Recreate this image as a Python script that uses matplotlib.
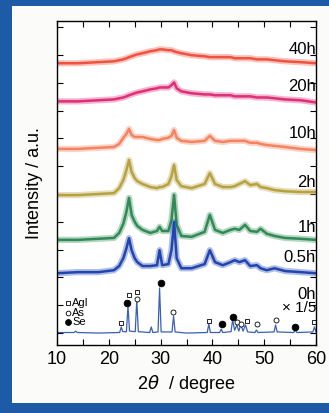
import matplotlib.pyplot as plt
from matplotlib.patches import Rectangle

plt.rcParams['font.family'] = ['Liberation Sans', 'DejaVu Sans']

# common 2theta grid for the milled samples (degree)
tt = [10, 14, 18, 21, 22, 22.8, 23.4, 23.9, 24.4, 25.0, 25.5, 26.5, 28, 29.3, 29.8,
      30.3, 31.5, 32.1, 32.6, 33.1, 34, 36, 38.5, 39.5, 40.5, 42, 43.5, 44.3, 45.2,
      46.3, 47.3, 48.6, 49.3, 50.5, 52, 54, 57, 60]

i_40h = [0.00, 0.00, 0.04, 0.07, 0.11, 0.14, 0.18, 0.22, 0.25, 0.29, 0.32, 0.36, 0.43,
         0.47, 0.50, 0.50, 0.47, 0.47, 0.43, 0.40, 0.36, 0.29, 0.25, 0.22, 0.22, 0.22,
         0.22, 0.18, 0.18, 0.18, 0.18, 0.14, 0.14, 0.14, 0.11, 0.07, 0.04, 0.00]
i_20h = [0.00, 0.00, 0.04, 0.07, 0.11, 0.14, 0.18, 0.22, 0.25, 0.29, 0.32, 0.36, 0.43,
         0.47, 0.50, 0.50, 0.50, 0.58, 0.68, 0.47, 0.36, 0.29, 0.25, 0.25, 0.22, 0.22,
         0.22, 0.18, 0.18, 0.18, 0.18, 0.14, 0.14, 0.14, 0.11, 0.07, 0.04, -0.04]
i_10h = [0.00, 0.00, 0.04, 0.07, 0.18, 0.40, 0.54, 0.72, 0.50, 0.43, 0.43, 0.43, 0.36,
         0.32, 0.32, 0.36, 0.40, 0.47, 0.68, 0.40, 0.29, 0.25, 0.29, 0.47, 0.29, 0.25,
         0.29, 0.29, 0.29, 0.29, 0.22, 0.22, 0.18, 0.14, 0.11, 0.07, 0.00, -0.04]
i_2h = [0.00, 0.00, 0.04, 0.07, 0.25, 0.54, 0.90, 1.26, 0.83, 0.61, 0.50, 0.40, 0.29,
        0.25, 0.29, 0.29, 0.40, 0.68, 1.08, 0.54, 0.32, 0.25, 0.40, 0.79, 0.40, 0.29,
        0.29, 0.32, 0.40, 0.50, 0.36, 0.40, 0.29, 0.25, 0.18, 0.14, 0.11, 0.11]
i_1h = [0.00, 0.00, 0.04, 0.07, 0.25, 0.58, 1.01, 1.51, 0.90, 0.65, 0.50, 0.36, 0.25,
        0.32, 0.47, 0.32, 0.32, 0.72, 1.62, 0.54, 0.14, 0.11, 0.29, 0.90, 0.36, 0.25,
        0.36, 0.40, 0.36, 0.54, 0.32, 0.29, 0.40, 0.22, 0.14, 0.07, 0.04, 0.00]
i_05h = [-0.04, 0.00, 0.00, 0.07, 0.22, 0.50, 0.86, 1.22, 0.79, 0.50, 0.36, 0.22, 0.22,
         0.25, 0.79, 0.25, 0.29, 0.79, 1.80, 0.50, 0.14, 0.14, 0.29, 0.79, 0.36, 0.25,
         0.36, 0.43, 0.36, 0.43, 0.22, 0.25, 0.14, 0.07, 0.14, 0.04, 0.00, -0.04]

# starting mixture, plotted at 1/5 scale
tt_0h = [10, 13.3, 13.6, 13.9, 18, 22.1, 22.4, 22.7, 23.4, 23.7, 24.0, 25.1, 25.4, 25.7,
         27.9, 28.2, 28.5, 29.5, 29.8, 30.1, 32.2, 32.5, 32.8, 35, 39.0, 39.3, 39.6,
         41.4, 41.7, 42.0, 43.6, 43.9, 44.3, 44.7, 45.1, 45.5, 45.9, 46.4, 46.8, 48.2,
         48.5, 48.8, 51.9, 52.2, 52.5, 55.7, 56.0, 56.3, 59.4, 59.7, 60]
i_0h = [0.02, 0.02, 0.07, 0.02, 0.00, 0.02, 0.22, 0.05, 0.05, 0.97, 0.07, 0.05, 1.19, 0.05,
        0.02, 0.22, 0.02, 0.04, 1.62, 0.04, 0.04, 0.61, 0.04, 0.00, 0.02, 0.32, 0.02,
        0.02, 0.14, 0.02, 0.05, 0.47, 0.10, 0.29, 0.07, 0.32, 0.07, 0.29, 0.04, 0.02,
        0.11, 0.02, 0.04, 0.29, 0.04, 0.02, 0.11, 0.02, 0.04, 0.22, 0.04]

labels = ['40h', '20h', '10h', '2h', '1h', '0.5h']
series = [i_40h, i_20h, i_10h, i_2h, i_1h, i_05h]
colors = ['#ef5340', '#de2f78', '#f4845f', '#b7a23f', '#2f8a55', '#2145b0']

# phase markers above the 0h peaks
agi_x = [22.4, 23.9, 25.4, 39.4, 46.6, 59.6]
agi_y = [0.36, 1.37, 1.47, 0.43, 0.43, 0.40]
as_x = [25.4, 32.4, 44.7, 45.6, 48.6, 52.3]
as_y = [1.22, 0.76, 0.38, 0.33, 0.32, 0.47]
se_x = [23.5, 30.0, 41.8, 43.9, 56.0]
se_y = [1.08, 1.80, 0.32, 0.58, 0.22]

offsets = [9.70, 8.33, 6.62, 4.96, 3.35, 2.19]
label_y = [10.18, 8.85, 7.19, 5.43, 3.78, 2.73]

fig = plt.figure(figsize=(3.29, 4.13), dpi=100, facecolor='#1d5ba6')
fig.add_artist(Rectangle((0.0365, 0.024), 0.97, 0.9615, transform=fig.transFigure,
                         facecolor='#fbfbfa', edgecolor='none', zorder=-5))
ax = fig.add_axes([0.1733, 0.1646, 0.7872, 0.7846])
ax.set_facecolor('white')

for y, off, c in zip(series, offsets, colors):
    yy = [v + off for v in y]
    # faint wide band under each trace stands in for the counting noise
    ax.plot(tt, yy, color=c, lw=4.5, alpha=0.35, solid_joinstyle='round')
    ax.plot(tt, yy, color=c, lw=1.8, solid_joinstyle='round')
ax.plot(tt_0h, i_0h, color='#3b5fb5', lw=0.9)

ms = dict(ls='none', color='k', mew=0.6)
ax.plot(agi_x, agi_y, marker='s', ms=3.4, mfc='white', **ms)
ax.plot(as_x, as_y, marker='o', ms=3.6, mfc='white', **ms)
ax.plot(se_x, se_y, marker='o', ms=4.8, mfc='k', **ms)

for lab, ly in zip(labels, label_y):
    ax.text(60, ly, lab, ha='right', va='center', fontsize=12)
ax.text(60, 1.37, '0h', ha='right', va='center', fontsize=12)
ax.text(60, 0.90, '× 1/5', ha='right', va='center', fontsize=11)

# small legend for the phase symbols
ax.plot([12.2], [1.08], marker='s', ms=3.2, mfc='white', **ms)
ax.plot([12.2], [0.72], marker='o', ms=3.4, mfc='white', **ms)
ax.plot([12.2], [0.40], marker='o', ms=4.2, mfc='k', **ms)
ax.text(12.9, 1.08, 'AgI', va='center', fontsize=8)
ax.text(12.9, 0.72, 'As', va='center', fontsize=8)
ax.text(12.9, 0.40, 'Se', va='center', fontsize=8)

ax.set_xlim(10, 60)
ax.set_ylim(-0.43, 11.22)
ax.set_xticks(range(10, 61, 10))
ax.set_xticks(range(15, 60, 10), minor=True)
ax.set_yticks(range(0, 12))
ax.set_yticklabels([])
ax.tick_params(which='both', direction='in', top=True, right=True, length=4, width=0.8,
               labelsize=13, pad=4)
for s in ax.spines.values():
    s.set_linewidth(1.0)

ax.set_xlabel('2$\\it{θ}$  / degree', fontsize=13, labelpad=4)
ax.set_ylabel('Intensity / a.u.', fontsize=13, labelpad=6)

fig.savefig('out.png', dpi=100, facecolor=fig.get_facecolor())
